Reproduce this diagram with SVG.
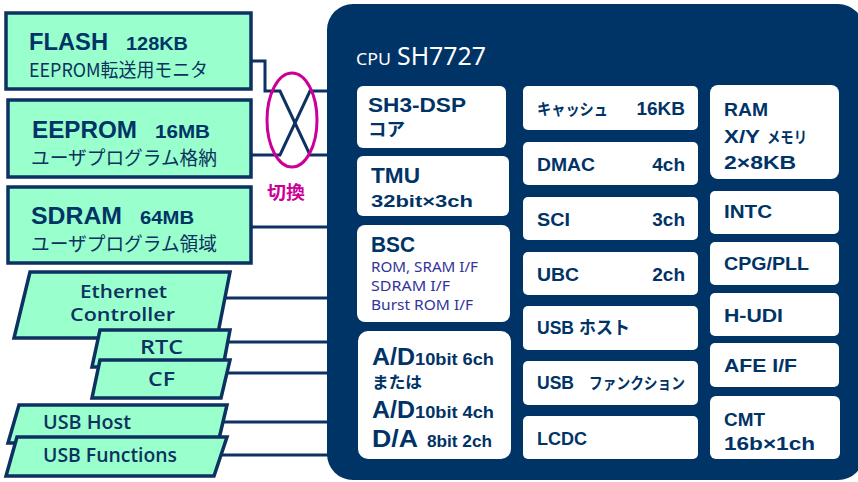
<svg xmlns="http://www.w3.org/2000/svg" width="858" height="482" viewBox="0 0 858 482">
<style>
.ext{fill:#99ffcc;stroke:#0d3160;stroke-width:3.5}
.con{fill:none;stroke:#0d3160;stroke-width:3}
.blk{fill:#ffffff}
.b{font-family:"Liberation Sans","Noto Sans CJK JP",sans-serif;font-weight:bold;fill:#003366}
.jb{font-family:"Noto Sans CJK JP",sans-serif;font-weight:bold;fill:#003366}
.jr{font-family:"Noto Sans CJK JP",sans-serif;font-weight:normal;fill:#0d3160}
.io{font-family:"Open Sans","Noto Sans",sans-serif;font-weight:600;fill:#0d3160}
.bsc{font-family:"Noto Sans",sans-serif;font-weight:normal;fill:#333399}
.ttl{font-family:"Noto Sans",sans-serif;font-weight:normal;fill:#ffffff}
</style>
<g id="connectors">
<path class="con" d="M251,61 H265 V91 H280 L310,155 H330"/>
<path class="con" d="M251,155 H280 L310,91 H330"/>
<path class="con" d="M251,227 H330"/>
<path class="con" d="M226,298 H330"/>
<path class="con" d="M227,342 H330"/>
<path class="con" d="M225,373 H330"/>
<path class="con" d="M222,422 H330"/>
<path class="con" d="M219,455 H330"/>
</g>
<g id="switch">
<ellipse cx="292" cy="120" rx="25" ry="47" fill="none" stroke="#cc0099" stroke-width="3"/>
<text x="267" y="199" font-family="Noto Sans CJK JP,sans-serif" font-weight="bold" font-size="18" fill="#cc0099" textLength="38" lengthAdjust="spacingAndGlyphs">切換</text>
</g>
<g id="flash">
<rect class="ext" x="6" y="13" width="245" height="76"/>
<text class="b" x="29" y="50" font-size="24" textLength="79" lengthAdjust="spacingAndGlyphs">FLASH</text>
<text class="b" x="126" y="50" font-size="19" textLength="62" lengthAdjust="spacingAndGlyphs">128KB</text>
<text class="jr" x="29" y="77" font-size="19" textLength="179" lengthAdjust="spacingAndGlyphs">EEPROM転送用モニタ</text>
</g>
<g id="eeprom">
<rect class="ext" x="8" y="100" width="243" height="77"/>
<text class="b" x="32" y="138" font-size="24" textLength="105" lengthAdjust="spacingAndGlyphs">EEPROM</text>
<text class="b" x="155" y="138" font-size="19" textLength="55" lengthAdjust="spacingAndGlyphs">16MB</text>
<text class="jr" x="31" y="165" font-size="19" textLength="186" lengthAdjust="spacingAndGlyphs">ユーザプログラム格納</text>
</g>
<g id="sdram">
<rect class="ext" x="8" y="187" width="243" height="76"/>
<text class="b" x="31" y="224" font-size="24" textLength="91" lengthAdjust="spacingAndGlyphs">SDRAM</text>
<text class="b" x="140" y="224" font-size="19" textLength="54" lengthAdjust="spacingAndGlyphs">64MB</text>
<text class="jr" x="31" y="251" font-size="19" textLength="186" lengthAdjust="spacingAndGlyphs">ユーザプログラム領域</text>
</g>
<g id="ethernet">
<polygon class="ext" points="30,272 230,272 217,338 14,338"/>
<text class="io" x="80" y="298" font-size="17.5" textLength="87" lengthAdjust="spacingAndGlyphs">Ethernet</text>
<text class="io" x="70" y="321" font-size="17.5" textLength="105" lengthAdjust="spacingAndGlyphs">Controller</text>
</g>
<g id="rtc">
<polygon class="ext" points="100,330 230,330 223,367 92,367"/>
<text class="io" x="140" y="354" font-size="20" textLength="43" lengthAdjust="spacingAndGlyphs">RTC</text>
</g>
<g id="cf">
<polygon class="ext" points="100,360 230,360 221,398 92,398"/>
<text class="io" x="148" y="386" font-size="20" textLength="27" lengthAdjust="spacingAndGlyphs">CF</text>
</g>
<g id="usbhost">
<polygon class="ext" points="19,405 227,405 218,443 8,443"/>
<text class="io" x="43" y="429" font-size="20" textLength="88" lengthAdjust="spacingAndGlyphs">USB Host</text>
</g>
<g id="usbfunc">
<polygon class="ext" points="17,437 227,437 214,476 6,476"/>
<text class="io" x="43" y="462" font-size="20" textLength="134" lengthAdjust="spacingAndGlyphs">USB Functions</text>
</g>
<g id="cpu">
<rect x="327" y="4" width="537" height="476" rx="26" fill="#003366"/>
<text class="ttl" x="356" y="65" font-size="17" textLength="35" lengthAdjust="spacingAndGlyphs">CPU</text>
<text class="ttl" x="397" y="65" font-size="25" textLength="89" lengthAdjust="spacingAndGlyphs">SH7727</text>
</g>
<g id="sh3dsp">
<rect class="blk" x="357" y="86" width="149" height="62" rx="6"/>
<text class="b" x="368" y="112" font-size="21" textLength="98" lengthAdjust="spacingAndGlyphs">SH3-DSP</text>
<text class="jb" x="368" y="136" font-size="18" textLength="37" lengthAdjust="spacingAndGlyphs">コア</text>
</g>
<g id="tmu">
<rect class="blk" x="357" y="156" width="152" height="60" rx="6"/>
<text class="b" x="371" y="183" font-size="22" textLength="49" lengthAdjust="spacingAndGlyphs">TMU</text>
<text class="b" x="371" y="207" font-size="17" textLength="102" lengthAdjust="spacingAndGlyphs">32bit×3ch</text>
</g>
<g id="bsc">
<rect class="blk" x="357" y="225" width="153" height="97" rx="8"/>
<text class="b" x="371" y="252" font-size="22" textLength="44" lengthAdjust="spacingAndGlyphs">BSC</text>
<text class="bsc" x="371" y="272" font-size="14" textLength="107" lengthAdjust="spacingAndGlyphs">ROM, SRAM I/F</text>
<text class="bsc" x="371" y="291" font-size="14" textLength="79" lengthAdjust="spacingAndGlyphs">SDRAM I/F</text>
<text class="bsc" x="371" y="310" font-size="14" textLength="102" lengthAdjust="spacingAndGlyphs">Burst ROM I/F</text>
</g>
<g id="adda">
<rect class="blk" x="358" y="331" width="153" height="128" rx="10"/>
<text class="b" x="372" y="365" font-size="23" textLength="43" lengthAdjust="spacingAndGlyphs">A/D</text>
<text class="b" x="415" y="365" font-size="16" textLength="79" lengthAdjust="spacingAndGlyphs">10bit 6ch</text>
<text class="jb" x="372" y="388" font-size="16" textLength="50" lengthAdjust="spacingAndGlyphs">または</text>
<text class="b" x="372" y="418" font-size="23" textLength="43" lengthAdjust="spacingAndGlyphs">A/D</text>
<text class="b" x="415" y="418" font-size="16" textLength="79" lengthAdjust="spacingAndGlyphs">10bit 4ch</text>
<text class="b" x="372" y="447" font-size="23" textLength="46" lengthAdjust="spacingAndGlyphs">D/A</text>
<text class="b" x="427" y="447" font-size="16" textLength="65" lengthAdjust="spacingAndGlyphs">8bit 2ch</text>
</g>
<g id="cache">
<rect class="blk" x="523" y="86" width="175" height="44" rx="5"/>
<text class="jb" x="537" y="115" font-size="16" textLength="71" lengthAdjust="spacingAndGlyphs">キャッシュ</text>
<text class="b" x="685" y="115" font-size="19" text-anchor="end">16KB</text>
</g>
<g id="dmac">
<rect class="blk" x="523" y="142" width="175" height="43" rx="5"/>
<text class="b" x="537" y="171" font-size="19" textLength="58" lengthAdjust="spacingAndGlyphs">DMAC</text>
<text class="b" x="685" y="171" font-size="19" text-anchor="end">4ch</text>
</g>
<g id="sci">
<rect class="blk" x="523" y="197" width="175" height="43" rx="5"/>
<text class="b" x="537" y="226" font-size="19" textLength="33" lengthAdjust="spacingAndGlyphs">SCI</text>
<text class="b" x="685" y="226" font-size="19" text-anchor="end">3ch</text>
</g>
<g id="ubc">
<rect class="blk" x="523" y="252" width="175" height="43" rx="5"/>
<text class="b" x="537" y="281" font-size="19" textLength="42" lengthAdjust="spacingAndGlyphs">UBC</text>
<text class="b" x="685" y="281" font-size="19" text-anchor="end">2ch</text>
</g>
<g id="usbhostblk">
<rect class="blk" x="523" y="306" width="175" height="44" rx="5"/>
<text class="b" x="537" y="334" font-size="19" textLength="37" lengthAdjust="spacingAndGlyphs">USB</text>
<text class="jb" x="579" y="334" font-size="18" textLength="51" lengthAdjust="spacingAndGlyphs">ホスト</text>
</g>
<g id="usbfuncblk">
<rect class="blk" x="523" y="361" width="175" height="44" rx="5"/>
<text class="b" x="537" y="389" font-size="19" textLength="37" lengthAdjust="spacingAndGlyphs">USB</text>
<text class="jb" x="589" y="389" font-size="16" textLength="96" lengthAdjust="spacingAndGlyphs">ファンクション</text>
</g>
<g id="lcdc">
<rect class="blk" x="523" y="416" width="175" height="43" rx="5"/>
<text class="b" x="537" y="445" font-size="19" textLength="50" lengthAdjust="spacingAndGlyphs">LCDC</text>
</g>
<g id="ram">
<rect class="blk" x="710" y="85" width="129" height="94" rx="8"/>
<text class="b" x="724" y="116" font-size="19" textLength="44" lengthAdjust="spacingAndGlyphs">RAM</text>
<text class="b" x="724" y="143" font-size="19" textLength="36" lengthAdjust="spacingAndGlyphs">X/Y</text>
<text class="jb" x="767" y="143" font-size="16" textLength="40" lengthAdjust="spacingAndGlyphs">メモリ</text>
<text class="b" x="724" y="169" font-size="19" textLength="72" lengthAdjust="spacingAndGlyphs">2×8KB</text>
</g>
<g id="intc">
<rect class="blk" x="710" y="191" width="129" height="43" rx="5"/>
<text class="b" x="724" y="218" font-size="19" textLength="48" lengthAdjust="spacingAndGlyphs">INTC</text>
</g>
<g id="cpgpll">
<rect class="blk" x="710" y="242" width="129" height="43" rx="5"/>
<text class="b" x="724" y="270" font-size="19" textLength="85" lengthAdjust="spacingAndGlyphs">CPG/PLL</text>
</g>
<g id="hudi">
<rect class="blk" x="710" y="293" width="129" height="43" rx="5"/>
<text class="b" x="724" y="322" font-size="19" textLength="59" lengthAdjust="spacingAndGlyphs">H-UDI</text>
</g>
<g id="afeif">
<rect class="blk" x="710" y="343" width="129" height="44" rx="5"/>
<text class="b" x="724" y="372" font-size="19" textLength="73" lengthAdjust="spacingAndGlyphs">AFE I/F</text>
</g>
<g id="cmt">
<rect class="blk" x="710" y="396" width="130" height="63" rx="6"/>
<text class="b" x="724" y="426" font-size="19" textLength="41" lengthAdjust="spacingAndGlyphs">CMT</text>
<text class="b" x="724" y="450" font-size="19" textLength="91" lengthAdjust="spacingAndGlyphs">16b×1ch</text>
</g>
</svg>
